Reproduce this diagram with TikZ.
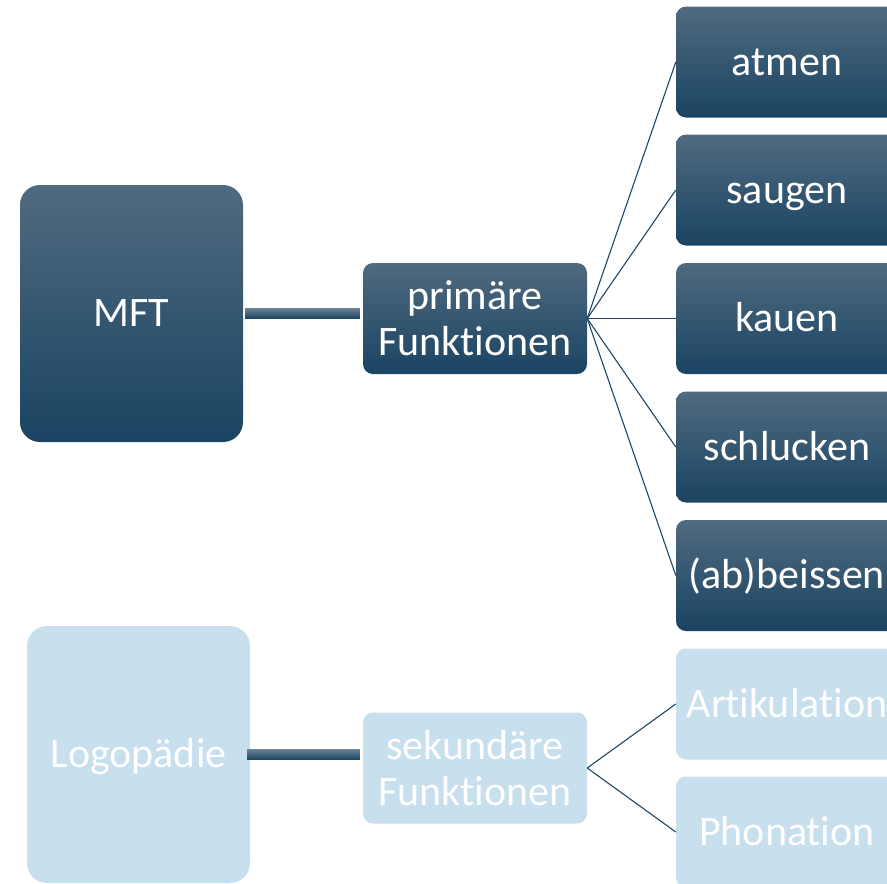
\documentclass[tikz,border=0pt]{standalone}
\usepackage{fontspec}
\setmainfont{Carlito}[Ligatures={NoCommon}]
\usetikzlibrary{calc}
\definecolor{dtop}{HTML}{506A80}
\definecolor{dmid}{HTML}{1F4B6A}
\definecolor{dbot}{HTML}{1A4462}
\definecolor{light}{HTML}{C8DFEE}
\definecolor{lineblue}{HTML}{1D4766}
\tikzset{
  box/.style={rounded corners=10pt, inner sep=0pt, text=white, align=center,
    font=\fontsize{42}{46}\selectfont},
  oneline/.style={text height=31pt, text depth=5pt},
  darkbox/.style={box, top color=dtop, middle color=dmid, bottom color=dbot},
  lightbox/.style={box, fill=light},
  bigbox/.style={oneline, minimum width=223pt, minimum height=257pt, rounded corners=20pt},
  midbox/.style={minimum width=224pt, minimum height=111pt},
  leafbox/.style={oneline, minimum width=222pt, minimum height=111pt},
  conn/.style={draw=lineblue, line width=1.1pt},
  bar/.style={top color=dtop!85, bottom color=dbot, draw=none}
}
\begin{document}
\begin{tikzpicture}[x=1pt,y=-1pt]
\useasboundingbox (0,0) rectangle (887,884);
\clip (0,0) rectangle (887,884);
% primary branch
\node[darkbox,bigbox] (mft) at (131.5,313.5) {MFT};
\node[darkbox,midbox] (prim) at (475,318.5) {primäre\\Funktionen};
\node[darkbox,leafbox] (atmen) at (787,62) {atmen};
\node[darkbox,leafbox] (saugen) at (787,190) {saugen};
\node[darkbox,leafbox] (kauen) at (787,318.5) {kauen};
\node[darkbox,leafbox] (schlucken) at (787,447) {schlucken};
\node[darkbox,leafbox] (beissen) at (787,575.5) {(ab)beissen};
% secondary branch
\node[lightbox,bigbox] (logo) at (138.5,754.5) {Logopädie};
\node[lightbox,midbox] (sek) at (475,768) {sekundäre\\Funktionen};
\node[lightbox,leafbox] (artik) at (787,704) {Artikulation};
\node[lightbox,leafbox] (phon) at (787,832) {Phonation};
% thick bars
\fill[bar] ($(mft.east)+(2,-5)$) rectangle ($(mft.east -| prim.west)+(-3,5)$);
\fill[bar] ($(logo.east)+(-3,-5)$) rectangle ($(logo.east -| sek.west)+(-3,5)$);
% thin connectors
\foreach \t in {atmen,saugen,kauen,schlucken,beissen}
  \draw[conn] (prim.east) -- (\t.west);
\foreach \t in {artik,phon}
  \draw[conn] (sek.east) -- (\t.west);
\end{tikzpicture}
\end{document}
